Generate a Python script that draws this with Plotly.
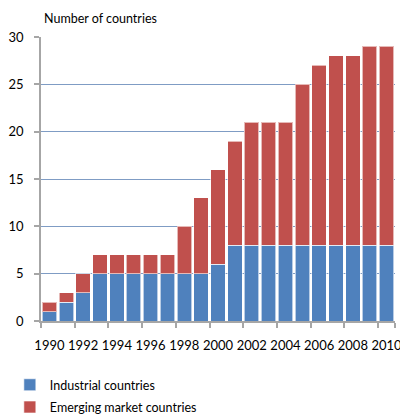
import plotly.graph_objects as go

years = list(range(1990, 2011))
industrial = [1, 2, 3, 5, 5, 5, 5, 5, 5, 5, 6, 8, 8, 8, 8, 8, 8, 8, 8, 8, 8]
total = [2, 3, 5, 7, 7, 7, 7, 7, 10, 13, 16, 19, 21, 21, 21, 25, 27, 28, 28, 29, 29]
emerging = [t - i for t, i in zip(total, industrial)]
tick_years = list(range(1990, 2011, 2))

FONT = "Lato"
fig = go.Figure()
fig.add_bar(x=years, y=industrial, name="Industrial countries", legendgroup="a",
            marker=dict(color="#4F81BD", line=dict(color="rgba(255,255,255,0.6)", width=1)))
fig.add_bar(x=years, y=emerging, name="Emerging market countries", legendgroup="b",
            marker=dict(color="#C0504D", line=dict(color="rgba(255,255,255,0.6)", width=1)))

fig.update_layout(
    barmode="stack", bargap=0.14,
    width=400, height=414,
    margin=dict(l=41, r=5, t=37, b=93, autoexpand=False),
    paper_bgcolor="white", plot_bgcolor="white",
    font=dict(family=FONT, size=13, color="#000000"),
    legend=dict(orientation="v", x=-0.088, xanchor="left", y=-0.173, yanchor="top",
                font=dict(size=12.5), bgcolor="rgba(0,0,0,0)",
                traceorder="grouped", tracegroupgap=3),
    annotations=[dict(text="Number of countries", xref="paper", yref="paper",
                      x=0.003, y=1.066, xanchor="left", yanchor="middle",
                      showarrow=False, font=dict(size=12.5))],
)
fig.update_xaxes(range=[1989.5, 2010.5], tickmode="array", tickvals=tick_years,
                 ticktext=[str(y) for y in tick_years], ticks="", showgrid=False,
                 showline=True, linecolor="#A6A6A6", linewidth=1.5,
                 ticklabelstandoff=12, ticklabeloverflow="allow",
                 minor=dict(tickmode="array", tickvals=[y - 0.5 for y in tick_years] + [2010.5],
                            ticks="outside", ticklen=5, tickcolor="#A6A6A6", tickwidth=1.5,
                            showgrid=False))
fig.update_yaxes(range=[0, 30], tickvals=[0, 5, 10, 15, 20, 25, 30], ticks="outside",
                 ticklen=5, tickcolor="#A6A6A6", tickwidth=1.5,
                 showgrid=True, gridcolor="#7F9CC4", gridwidth=1.2,
                 showline=True, linecolor="#A6A6A6", linewidth=1.5,
                 ticklabelstandoff=8, zeroline=False)

fig.write_html("out.html")
